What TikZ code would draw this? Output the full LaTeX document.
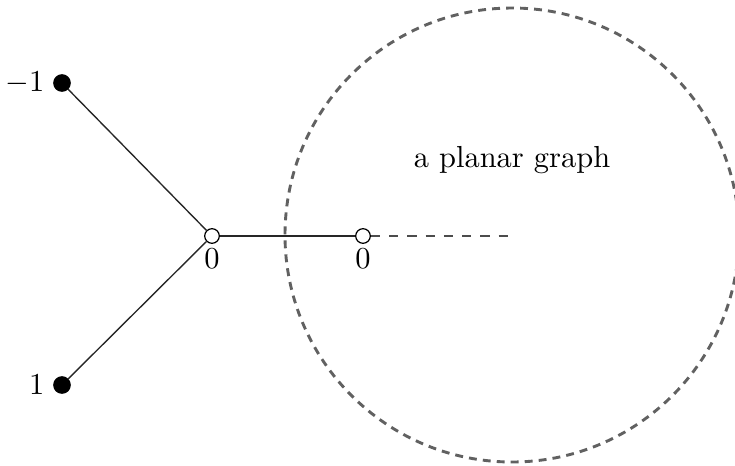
\documentclass[tikz,border=0pt]{standalone}
\usetikzlibrary{positioning}
\begin{document}
\begin{tikzpicture}[x=0.3286pt,y=-0.3286pt,
  blackdot/.style={circle,fill=black,draw=black,inner sep=0pt,minimum size=5.4pt},
  whitedot/.style={circle,fill=white,draw=black,inner sep=0pt,minimum size=4.8pt},
  edge/.style={draw=black!85,line width=0.45pt},
  lbl/.style={inner sep=1.5pt}]
\useasboundingbox (0,0) rectangle (735,465);
\draw[dash pattern=on 2.6pt off 2pt,line width=0.95pt,black!62] (512,235) circle[radius=227];
\node[blackdot] (m) at (62,83) {};
\node[blackdot] (p) at (62,385) {};
\node[whitedot] (a) at (212,236) {};
\node[whitedot] (b) at (363,236) {};
\coordinate (e) at (510,236);
\node[lbl,left=1.2pt of m] (ml) {$-1$};
\node[lbl,left=1.2pt of p] (pl) {$1$};
\node[lbl,below=0pt of a] (al) {$0$};
\node[lbl,below=0pt of b] (bl) {$0$};
\node (t) at (512,160) {a planar graph};
\draw[edge] (m) -- (a);
\draw[edge] (p) -- (a);
\draw[edge] (a) -- (b);
\draw[dashed,line width=0.45pt,black!70] (b) -- (e);
\end{tikzpicture}
\end{document}
